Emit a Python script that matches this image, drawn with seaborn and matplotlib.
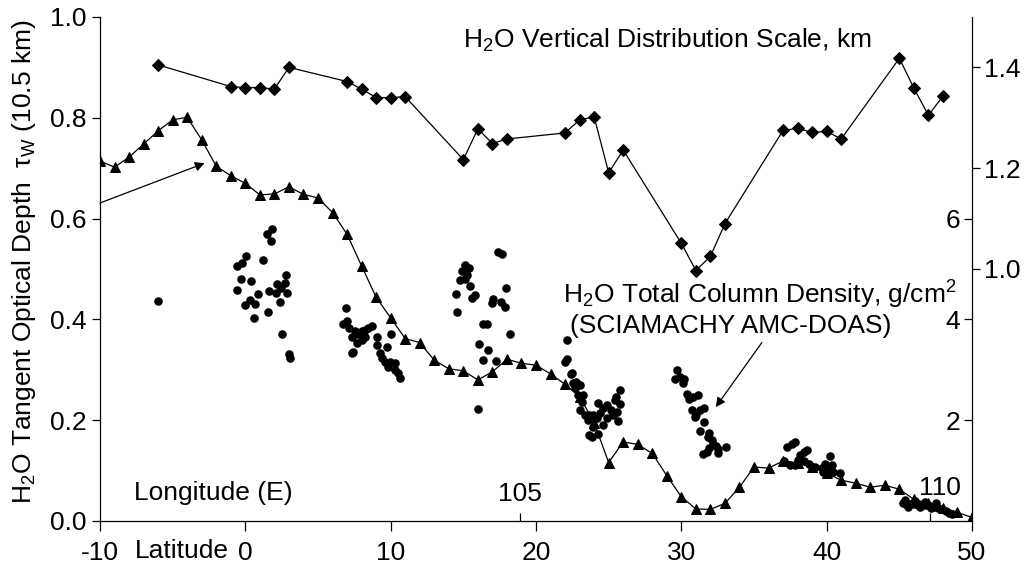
import matplotlib
matplotlib.use('Agg')
import matplotlib.pyplot as plt
import matplotlib.transforms as mtrans
import seaborn as sns
from matplotlib.ticker import FormatStrFormatter

# ---------------- data ----------------
tri_lat = list(range(-10, 51))
tri_tau = [0.714, 0.702, 0.722, 0.748, 0.774, 0.796, 0.801, 0.756, 0.704, 0.685,
           0.670, 0.647, 0.649, 0.663, 0.648, 0.641, 0.612, 0.569, 0.506, 0.444,
           0.403, 0.362, 0.354, 0.319, 0.302, 0.298, 0.280, 0.296, 0.321, 0.313,
           0.309, 0.292, 0.271, 0.247, 0.195, 0.116, 0.157, 0.152, 0.134, 0.090,
           0.048, 0.024, 0.023, 0.035, 0.067, 0.107, 0.105, 0.119, 0.115, 0.108,
           0.095, 0.081, 0.075, 0.067, 0.071, 0.063, 0.043, 0.035, 0.026, 0.017,
           0.007]

dia_lat = [-6, -1, 0, 1, 2, 3, 7, 8, 9, 10, 11, 15, 16, 17, 18, 22, 23, 24, 25, 26,
           30, 31, 32, 33, 37, 38, 39, 40, 41, 45, 46, 47, 48]
dia_km = [1.405, 1.362, 1.360, 1.360, 1.357, 1.400, 1.372, 1.357, 1.340, 1.340, 1.342,
          1.217, 1.278, 1.249, 1.258, 1.270, 1.296, 1.302, 1.191, 1.236,
          1.051, 0.997, 1.025, 1.090, 1.275, 1.279, 1.271, 1.273, 1.258,
          1.418, 1.359, 1.305, 1.343]

dot_lat = [
    -6.00,
    # around 0 N
    1.86, 1.47, 1.79, 0.05, 1.20, -0.25, -0.55, 2.78, -0.30, 0.37, 2.16, 2.71, 2.48,
    -0.59, 1.63, 2.11, 2.85, 0.89, 0.32, 0.00, 0.65, 2.41, 1.56, 0.60, 2.53, 3.01, 3.08,
    # around 8 N
    6.93, 6.98, 6.75, 7.16, 7.32, 7.55, 7.78, 8.01, 8.24, 8.46, 8.70, 7.67, 8.01, 7.43,
    7.32, 8.24, 9.09, 9.04, 9.73, 10.03, 9.27, 9.39, 9.61, 9.96, 10.30, 9.84, 10.30,
    10.53, 10.65,
    # around 16 N
    17.37, 17.64, 15.12, 15.42, 14.89, 15.24, 14.78, 15.12, 15.46, 14.50, 15.81, 15.58,
    17.92, 17.02, 17.00, 17.58, 17.87, 14.55, 16.38, 16.66, 18.22, 16.08, 16.68, 16.38,
    17.25, 16.00,
    # around 24 N
    22.12, 22.16, 22.00, 22.46, 22.39, 22.53, 22.76, 23.04, 22.69, 22.92, 23.26, 23.15,
    23.04, 23.38, 23.68, 23.95, 24.18, 24.41, 24.59, 24.29, 24.87, 25.15, 25.28, 25.44,
    25.79, 25.51, 25.79, 25.56, 23.61, 24.64, 24.87, 23.68, 23.85, 24.29, 25.67, 23.95,
    # around 31 N
    29.69, 29.57, 29.92, 30.21, 30.10, 30.38, 30.56, 30.83, 31.18, 30.72, 31.02, 31.29,
    31.57, 30.95, 31.57, 31.29, 31.93, 31.86, 32.09, 32.21, 32.39, 31.93, 32.55, 31.75,
    31.52, 32.55, 33.06,
    # around 39 N
    37.26, 37.60, 37.83, 37.03, 37.49, 37.83, 38.06, 38.18, 38.45, 38.68, 38.41, 38.75,
    38.98, 39.21, 39.67, 39.78, 40.01, 40.24, 40.36, 39.90, 40.19, 40.47, 40.93,
    # around 47 N
    45.27, 45.47, 45.75, 46.02, 46.30, 46.57, 46.85, 47.12, 47.40, 47.67, 47.95, 48.22,
    48.43, 48.64, 45.40, 46.10, 46.80, 47.50, 45.60, 46.40, 47.20,
]
dot_col = [
    4.37,
    5.79, 5.70, 5.56, 5.26, 5.18, 5.11, 5.06, 4.89, 4.81, 4.77, 4.70, 4.72, 4.63,
    4.58, 4.56, 4.53, 4.53, 4.50, 4.38, 4.29, 4.30, 4.34, 4.15, 4.02, 3.72, 3.31, 3.23,
    4.23, 3.97, 3.90, 3.82, 3.66, 3.76, 3.72, 3.76, 3.79, 3.82, 3.86, 3.53, 3.59, 3.36,
    3.34, 3.66, 3.66, 3.49, 3.46, 3.72, 3.33, 3.23, 3.16, 3.16, 3.13, 3.06, 3.00,
    2.93, 2.83,
    5.34, 5.29, 5.08, 5.01, 4.97, 4.89, 4.78, 4.80, 4.66, 4.50, 4.48, 4.42,
    4.62, 4.40, 4.32, 4.34, 4.24, 4.14, 3.91, 3.90, 3.72, 3.51, 3.39, 3.19,
    3.17, 2.22,
    3.60, 3.21, 3.16, 2.93, 2.92, 2.73, 2.76, 2.70, 2.63, 2.50, 2.50, 2.37,
    2.20, 2.10, 2.10, 2.10, 2.04, 2.14, 2.24, 2.35, 2.30, 2.20, 2.10, 2.40,
    2.60, 2.47, 2.32, 2.17, 2.00, 1.90, 2.04, 1.71, 1.66, 1.73, 1.99, 1.87,
    3.00, 2.82, 2.85, 2.81, 2.73, 2.52, 2.43, 2.47, 2.50, 2.20, 2.10, 2.20,
    2.24, 2.06, 1.97, 1.79, 1.74, 1.66, 1.61, 1.53, 1.49, 1.44, 1.43, 1.36,
    1.33, 1.34, 1.46,
    1.47, 1.53, 1.57, 1.20, 1.11, 1.11, 1.22, 1.31, 1.36, 1.41, 1.20, 1.14,
    1.08, 1.08, 1.05, 0.98, 0.95, 1.28, 1.11, 1.14, 1.01, 0.98, 0.96,
    0.36, 0.34, 0.34, 0.33, 0.32, 0.32, 0.31, 0.30, 0.28, 0.26, 0.24, 0.20,
    0.16, 0.14, 0.42, 0.40, 0.38, 0.36, 0.28, 0.27, 0.26,
]

lat_ticks = [-10, 0, 10, 20, 30, 40, 50]
tau_ticks = [0.0, 0.2, 0.4, 0.6, 0.8, 1.0]
km_ticks = [1.0, 1.2, 1.4]
col_ticks = [2, 4, 6]
lon_labels = ['105', '110']
lon_tick_lat = [18.9, 47.1]

# ---------------- style ----------------
sns.set_theme(style='white')
FS = 19
plt.rcParams['font.family'] = ['Liberation Sans', 'DejaVu Sans']
plt.rcParams['mathtext.default'] = 'regular'
plt.rcParams.update({
    'font.size': FS, 'axes.labelsize': FS, 'xtick.labelsize': FS, 'ytick.labelsize': FS,
    'axes.edgecolor': 'black', 'axes.linewidth': 0.9, 'axes.unicode_minus': False,
    'xtick.color': 'black', 'ytick.color': 'black', 'text.color': 'black',
    'axes.labelcolor': 'black',
})

fig = plt.figure(figsize=(10.24, 5.69), dpi=100)
ax = fig.add_axes([100 / 1024, 48 / 569, 872 / 1024, 504 / 569])
ax2 = ax.twinx()   # column density (inner right scale)
ax3 = ax.twinx()   # vertical distribution scale (outer right scale)

sns.lineplot(x=tri_lat, y=tri_tau, ax=ax, color='black', linewidth=0.9,
             marker='^', markersize=7.5, markeredgecolor='black', markerfacecolor='black')
sns.lineplot(x=dia_lat, y=dia_km, ax=ax3, color='black', linewidth=0.9,
             marker='D', markersize=6, markeredgecolor='black', markerfacecolor='black')
sns.scatterplot(x=dot_lat, y=dot_col, ax=ax2, color='black', s=38, linewidth=0)

# limits
ax.set_xlim(-10, 50)
ax.set_ylim(0, 1.0)
ax2.set_ylim(0, 10)
ax3.set_ylim(0.5, 1.5)

# main axis ticks
ax.set_xticks(lat_ticks)
ax.set_yticks(tau_ticks)
ax.yaxis.set_major_formatter(FormatStrFormatter('%.1f'))
ax.tick_params(axis='x', direction='out', length=7, width=0.9, pad=7.5, bottom=True)
ax.tick_params(axis='y', direction='out', length=6, width=0.9, pad=3.5, left=True)
for s in ['top', 'right']:
    ax.spines[s].set_visible(False)

# inner right axis
ax2.set_yticks(col_ticks)
ax2.tick_params(axis='y', direction='in', length=6, width=0.9, pad=-19, right=True)
for s in ['top', 'left', 'bottom', 'right']:
    ax2.spines[s].set_visible(False)

# outer right axis
ax3.set_yticks(km_ticks)
ax3.yaxis.set_major_formatter(FormatStrFormatter('%.1f'))
ax3.tick_params(axis='y', direction='out', length=6, width=0.9, pad=3, right=True)
for s in ['top', 'left', 'bottom']:
    ax3.spines[s].set_visible(False)
ax3.spines['right'].set_linewidth(0.9)

# longitude ticks inside along bottom
ax4 = ax.twiny()
ax4.set_xlim(-10, 50)
ax4.xaxis.tick_bottom()
ax4.set_xticks(lon_tick_lat, labels=lon_labels)
ax4.tick_params(axis='x', direction='in', length=6, width=0.9, pad=-28, bottom=True, top=False)
for s in ['top', 'left', 'bottom', 'right']:
    ax4.spines[s].set_visible(False)
# the "110" label sits a little right of and above its tick in the original
lbl110 = ax4.get_xticklabels()[1]
lbl110.set_transform(lbl110.get_transform() +
                     mtrans.ScaledTranslation(10 / 100, 6 / 100, fig.dpi_scale_trans))

# labels
ax.set_xlabel('Latitude')
ax.xaxis.set_label_coords(0.0935, -0.036)
ax.set_ylabel('H$_2$O Tangent Optical Depth  τ$_W$ (10.5 km)')
ax.yaxis.set_label_coords(-0.071, 0.515)

ax.text(-7.66, 0.056, 'Longitude (E)', ha='left', va='center', fontsize=FS)
ax.text(14.98, 0.954, 'H$_2$O Vertical Distribution Scale, km', ha='left', va='center', fontsize=FS)
ax.text(21.87, 0.448, 'H$_2$O Total Column Density, g/cm$^2$', ha='left', va='center', fontsize=FS)
ax.text(22.35, 0.387, '(SCIAMACHY AMC-DOAS)', ha='left', va='center', fontsize=FS)

arrow = dict(arrowstyle='-|>', color='black', lw=0.9, mutation_scale=14,
             shrinkA=0, shrinkB=0)
ax.annotate('', xy=(-2.8, 0.710), xytext=(-10.0, 0.631), arrowprops=arrow)
ax.annotate('', xy=(32.37, 0.226), xytext=(35.54, 0.354), arrowprops=arrow)

fig.savefig('out.png', dpi=100)
